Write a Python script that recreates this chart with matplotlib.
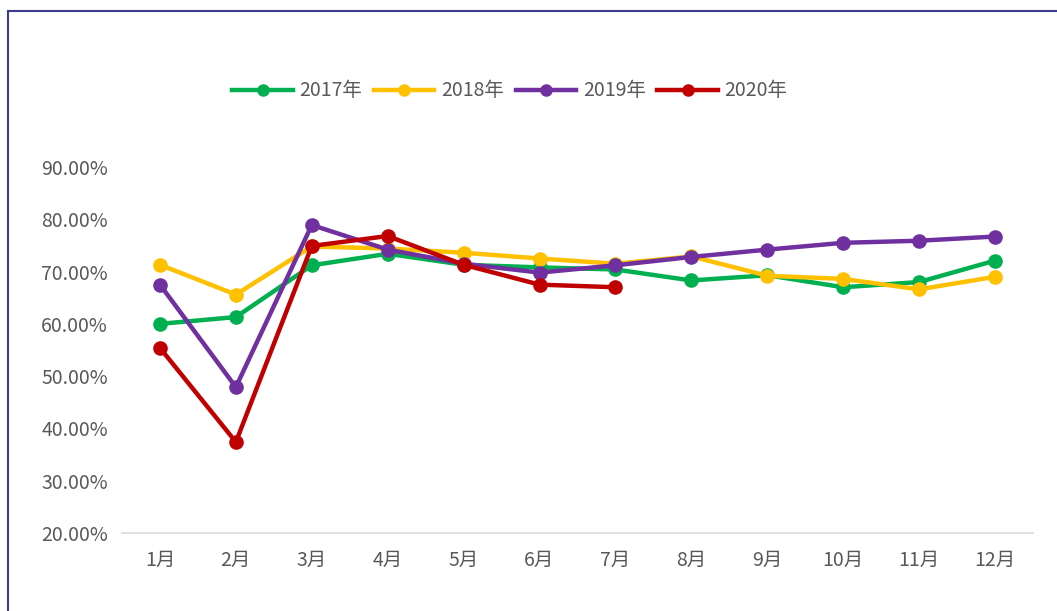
import matplotlib
matplotlib.use("Agg")
import matplotlib.pyplot as plt
from matplotlib.lines import Line2D
from matplotlib.ticker import FuncFormatter

plt.rcParams["font.family"] = ["Noto Sans CJK SC", "DejaVu Sans"]

months = ["1月", "2月", "3月", "4月", "5月", "6月", "7月", "8月", "9月", "10月", "11月", "12月"]
y2017 = [60.0, 61.3, 71.2, 73.4, 71.3, 70.8, 70.4, 68.3, 69.3, 67.0, 68.0, 72.1]
y2018 = [71.3, 65.6, 74.8, 74.4, 73.6, 72.5, 71.5, 72.9, 69.2, 68.6, 66.6, 69.0]
y2019 = [67.5, 47.9, 78.9, 74.2, 71.5, 69.8, 71.2, 72.8, 74.2, 75.5, 75.9, 76.7]
y2020 = [55.4, 37.4, 74.9, 76.8, 71.3, 67.5, 67.0]

series = [("2017年", y2017, "#00b050"), ("2018年", y2018, "#ffc000"),
          ("2019年", y2019, "#7030a0"), ("2020年", y2020, "#c00000")]

fig = plt.figure(figsize=(10.57, 6.11), dpi=100)
ax = fig.add_axes([122 / 1057, 1 - 533 / 611, 911 / 1057, 366 / 611])

for name, ys, c in series:
    ax.plot(range(len(ys)), ys, color=c, lw=3.2, marker="o", ms=9.5, label=name)

ax.set_xlim(-0.5, 11.5)
ax.set_ylim(20, 90)
ax.set_yticks(range(20, 91, 10))
ax.yaxis.set_major_formatter(FuncFormatter(lambda v, _: f"{v:.2f}%"))
ax.set_xticks(range(12))
ax.set_xticklabels(months)
ax.tick_params(length=0, labelsize=14, colors="#595959")
ax.tick_params(axis="x", pad=12)
ax.tick_params(axis="y", pad=10)
for s in ["top", "right", "left"]:
    ax.spines[s].set_visible(False)
ax.spines["bottom"].set_color("#d9d9d9")
ax.spines["bottom"].set_linewidth(1.2)

handles = [Line2D([], [], color=c, lw=3.2, marker="o", ms=8) for _, _, c in series]
fig.legend(handles, [n for n, _, _ in series], loc="center", bbox_to_anchor=(510 / 1057, 1 - 91 / 611),
           ncol=4, frameon=False, fontsize=14, handlelength=3.1, handletextpad=0.35,
           columnspacing=0.6, labelcolor="#595959")

# outer frame (only top and left edges visible in the crop)
fig.add_artist(Line2D([8 / 1057, 1.0], [1 - 11 / 611] * 2, transform=fig.transFigure, color="#3b3b8f", lw=1.5))
fig.add_artist(Line2D([8 / 1057] * 2, [0.0, 1 - 11 / 611], transform=fig.transFigure, color="#3b3b8f", lw=1.5))

fig.savefig("out.png", dpi=100, facecolor="white")
